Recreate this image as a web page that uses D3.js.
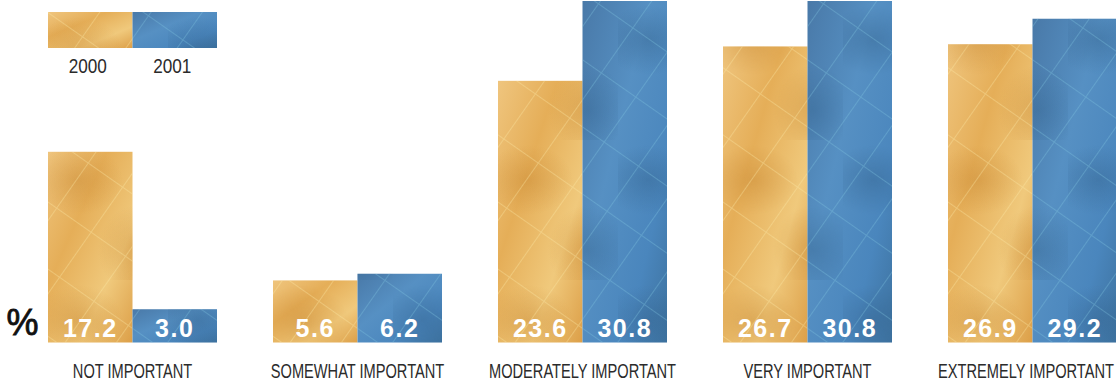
<!DOCTYPE html>
<html>
<head>
<meta charset="utf-8">
<script src="https://cdn.jsdelivr.net/npm/d3@7"></script>
<style>
  body { margin: 0; background: #fff; }
  svg { display: block; }
  .val { font-family: "Liberation Sans", Arial, sans-serif; font-weight: bold; fill: #fff; letter-spacing: 1.5px; }
  .cat { font-family: "Liberation Sans", Arial, sans-serif; fill: #2b2b2b; }
</style>
</head>
<body>
<div id="chart"></div>
<script>
// data
var categories = ["NOT IMPORTANT", "SOMEWHAT IMPORTANT", "MODERATELY IMPORTANT", "VERY IMPORTANT", "EXTREMELY IMPORTANT"];
var years = ["2000", "2001"];
var values2000 = [17.2, 5.6, 23.6, 26.7, 26.9];
var values2001 = [3.0, 6.2, 30.8, 30.8, 29.2];

var width = 1116, height = 383;
var baseline = 342.5;

var svg = d3.select("#chart").append("svg")
  .attr("width", width)
  .attr("height", height);

var defs = svg.append("defs");

// textured fills: gradient + soft blotches + faint criss-cross lines
function makeFill(id, stops, blotch, lineColor) {
  var g = defs.append("linearGradient").attr("id", id + "-grad")
    .attr("x1", "0").attr("y1", "0").attr("x2", "1").attr("y2", "1");
  stops.forEach(function(s) {
    g.append("stop").attr("offset", s[0]).attr("stop-color", s[1]);
  });
  var r = defs.append("radialGradient").attr("id", id + "-blot");
  r.append("stop").attr("offset", 0).attr("stop-color", blotch).attr("stop-opacity", 0.45);
  r.append("stop").attr("offset", 1).attr("stop-color", blotch).attr("stop-opacity", 0);
  var b = defs.append("pattern").attr("id", id + "-blots")
    .attr("patternUnits", "userSpaceOnUse")
    .attr("width", 120).attr("height", 140);
  b.append("ellipse").attr("cx", 30).attr("cy", 40).attr("rx", 45).attr("ry", 35).attr("fill", "url(#" + id + "-blot)");
  b.append("ellipse").attr("cx", 90).attr("cy", 110).attr("rx", 40).attr("ry", 45).attr("fill", "url(#" + id + "-blot)");
  var p = defs.append("pattern").attr("id", id + "-lines")
    .attr("patternUnits", "userSpaceOnUse")
    .attr("width", 42).attr("height", 55)
    .attr("patternTransform", "rotate(35)");
  p.append("path").attr("d", "M0,0 L0,55 M0,0 L42,0")
    .attr("stroke", lineColor).attr("stroke-width", 2).attr("opacity", 0.35);
}
makeFill("gold", [[0, "#efc57e"], [0.35, "#e5ae58"], [0.7, "#f0c97c"], [1, "#dc9f48"]], "#c98a35", "#fbe9a8");
makeFill("blue", [[0, "#4979a8"], [0.4, "#5690c3"], [0.75, "#4a86bd"], [1, "#3d729f"]], "#356591", "#80c6e0");

var x0 = d3.scaleBand()
  .domain(categories)
  .range([48, 48 + 225 * 5])
  .paddingInner(0)
  .paddingOuter(0);

var x1 = d3.scaleBand()
  .domain(years)
  .range([0, 169]);

var y = d3.scaleLinear()
  .domain([0, 30.8])
  .range([baseline, 1]);

var fills = { "2000": "gold", "2001": "blue" };
var layers = ["grad", "blots", "lines"];

var rows = categories.map(function(c, i) {
  return { cat: c, bars: [{ year: "2000", v: values2000[i] }, { year: "2001", v: values2001[i] }] };
});

var group = svg.selectAll("g.grp")
  .data(rows)
  .enter().append("g")
  .attr("class", "grp")
  .attr("transform", function(d) { return "translate(" + x0(d.cat) + ",0)"; });

var bar = group.selectAll("g.bar")
  .data(function(d) { return d.bars; })
  .enter().append("g")
  .attr("class", "bar");

layers.forEach(function(layer) {
  bar.append("rect")
    .attr("x", function(d) { return x1(d.year); })
    .attr("width", x1.bandwidth())
    .attr("y", function(d) { return y(d.v); })
    .attr("height", function(d) { return baseline - y(d.v); })
    .attr("fill", function(d) { return "url(#" + fills[d.year] + "-" + layer + ")"; });
});

bar.append("text")
  .attr("class", "val")
  .attr("x", function(d) { return x1(d.year) + x1.bandwidth() / 2; })
  .attr("y", 336.5)
  .attr("text-anchor", "middle")
  .style("font-size", "25px")
  .text(function(d) { return d.v.toFixed(1); });

// category labels, condensed
var catScale = 0.75;
group.append("text")
  .attr("class", "cat")
  .attr("text-anchor", "middle")
  .style("font-size", "19.5px")
  .text(function(d) { return d.cat; })
  .attr("transform", function(d) {
    var w = this.getComputedTextLength() * catScale;
    var cx = x0(d.cat) + 84.5;
    if (cx + w / 2 > width - 2) cx = width - 2 - w / 2;
    return "translate(" + (cx - x0(d.cat)) + ",378) scale(" + catScale + ",1)";
  });

// percent sign
svg.append("text")
  .attr("x", 22.5)
  .attr("y", 335)
  .attr("text-anchor", "middle")
  .style("font-family", "Liberation Sans, Arial, sans-serif")
  .style("font-size", "36px")
  .style("fill", "#111")
  .style("stroke", "#111")
  .style("stroke-width", 0.8)
  .text("%");

// legend
var legend = svg.append("g").attr("transform", "translate(48,12)");
layers.forEach(function(layer) {
  legend.selectAll("rect." + layer)
    .data(years)
    .enter().append("rect")
    .attr("class", layer)
    .attr("x", function(d) { return x1(d); })
    .attr("y", 0)
    .attr("width", x1.bandwidth())
    .attr("height", 36)
    .attr("fill", function(d) { return "url(#" + fills[d] + "-" + layer + ")"; });
});
legend.selectAll("text")
  .data(years)
  .enter().append("text")
  .attr("class", "cat")
  .attr("text-anchor", "middle")
  .style("font-size", "19.5px")
  .attr("transform", function(d) {
    return "translate(" + (x1(d) + x1.bandwidth() / 2 - 2.5) + ",61) scale(0.88,1)";
  })
  .text(function(d) { return d; });
</script>
</body>
</html>
